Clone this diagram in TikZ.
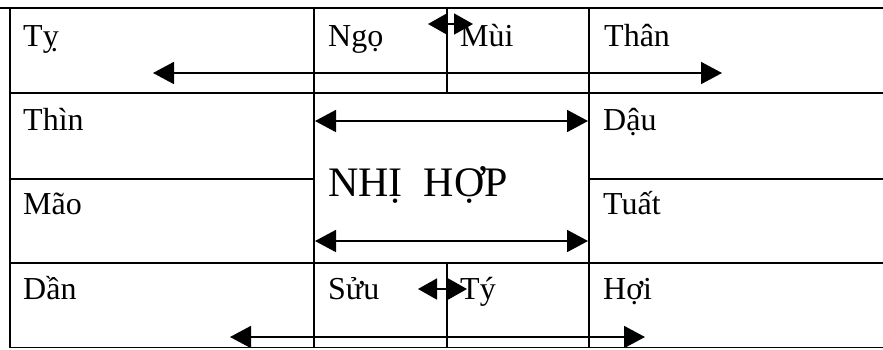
\documentclass[tikz,border=0pt]{standalone}
\usepackage{fontspec}
\setmainfont{Liberation Serif}
\usetikzlibrary{arrows.meta}
\begin{document}
\begin{tikzpicture}[x=1pt,y=-1pt,
  grid/.style={line width=1.8pt,line cap=rect},
  topline/.style={line width=2.6pt},
  lbl/.style={anchor=base west,inner sep=0pt,font=\fontsize{32}{36}\selectfont},
  big/.style={anchor=base west,inner sep=0pt,font=\fontsize{42}{48}\selectfont},
  arr/.style={line width=1.8pt,{Triangle[length=21pt,width=22pt]}-{Triangle[length=21pt,width=22pt]}},
  sarr/.style={line width=1.8pt,{Triangle[length=19pt,width=21pt]}-{Triangle[length=19pt,width=21pt]}}]
\useasboundingbox (0,0) rectangle (883,349);
% grid
\draw[topline] (0,8) -- (883,8);
\draw[grid] (10,93) -- (883,93);
\draw[grid] (10,179) -- (314,179);
\draw[grid] (589,179) -- (883,179);
\draw[grid] (10,263) -- (883,263);
\draw[line width=1.4pt] (10,347.5) -- (883,347.5);
\draw[grid] (10,8) -- (10,347);
\draw[grid] (314,8) -- (314,347);
\draw[grid] (589,8) -- (589,347);
\draw[grid] (447,8) -- (447,93);
\draw[grid] (447,263) -- (447,347);
% labels
\node[lbl] (ty) at (23,46) {Tỵ};
\node[lbl] (ngo) at (328,46) {Ngọ};
\node[lbl] (mui) at (460,46) {Mùi};
\node[lbl] (than) at (604,46) {Thân};
\node[lbl] (thin) at (23,130) {Thìn};
\node[lbl] (dau) at (603,130) {Dậu};
\node[lbl] (mao) at (23,214) {Mão};
\node[lbl] (tuat) at (603,214) {Tuất};
\node[lbl] (dan) at (23,299) {Dần};
\node[lbl] (suu) at (328,299) {Sửu};
\node[lbl] (tyy) at (460,299) {Tý};
\node[lbl] (hoi) at (603,299) {Hợi};
\node[big] (nhihop) at (328,196) {NHỊ\ \ HỢP};
% arrow ends
\coordinate (a1l) at (153,73);  \coordinate (a1r) at (722,73);
\coordinate (a2l) at (315,121); \coordinate (a2r) at (588,121);
\coordinate (a3l) at (315,241); \coordinate (a3r) at (588,241);
\coordinate (a4l) at (230,337); \coordinate (a4r) at (645,337);
\coordinate (s1l) at (428,24);  \coordinate (s1r) at (473,24);
\coordinate (s2l) at (418,289); \coordinate (s2r) at (467,289);
\draw[arr] (a1l) -- (a1r);
\draw[arr] (a2l) -- (a2r);
\draw[arr] (a3l) -- (a3r);
\draw[arr] (a4l) -- (a4r);
\draw[sarr] (s1l) -- (s1r);
\draw[sarr] (s2l) -- (s2r);
\end{tikzpicture}
\end{document}
